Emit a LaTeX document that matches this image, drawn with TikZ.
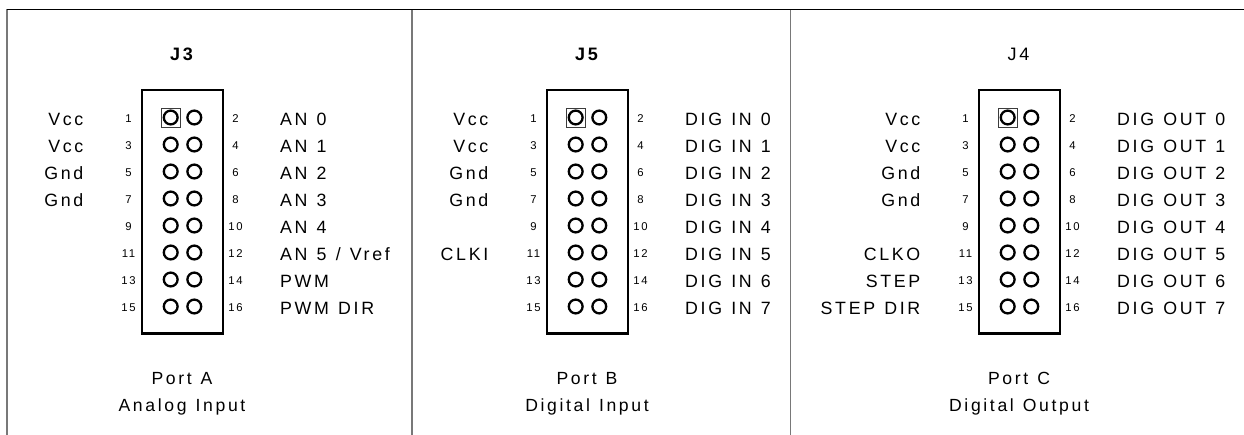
\documentclass[tikz,border=0pt]{standalone}
\usepackage{fontspec}
\setmainfont{Liberation Sans}[LetterSpace=15,WordSpace=1.2]
\definecolor{framegray}{RGB}{120,120,120}
\definecolor{sqgray}{RGB}{60,60,60}
\tikzset{
  lbl/.style={font=\fontsize{17.8}{20}\selectfont, inner sep=0pt},
  pinnum/.style={font=\fontsize{11.3}{12}\selectfont, inner sep=0pt, anchor=base},
  hdrtitle/.style={font=\fontsize{18}{20}\selectfont, inner sep=0pt, anchor=base},
  porttxt/.style={font=\fontsize{17.6}{20}\selectfont, inner sep=0pt, anchor=base},
  hdrbox/.style={draw, line width=2.2pt, minimum width=81pt, minimum height=243.5pt, inner sep=0pt},
  pinst/.style={circle, draw, line width=2.3pt, minimum size=13.8pt, inner sep=0pt},
  pinsq/.style={draw=sqgray, line width=0.9pt, minimum size=19pt, inner sep=0pt},
}
% #1 prefix, #2 centre x, #3 title, #4 left labels, #5 right labels, #6 port, #7 function
\newcommand\hdrpanel[7]{%
  \node[hdrtitle] (#1title) at (#2-1,61) {#3};
  \node[hdrbox] (#1box) at (#2,211.75) {};
  \node[pinsq] (#1sq) at (#2-11.5,117.5) {};
  \foreach \r in {1,...,8}{%
    \pgfmathsetmacro\ry{117.5+27*(\r-1)}%
    \pgfmathtruncatemacro\odd{2*\r-1}%
    \pgfmathtruncatemacro\even{2*\r}%
    \node[pinst] (#1pa\r) at (#2-11.8,\ry) {};
    \node[pinst] (#1pb\r) at (#2+11.8,\ry) {};
    \node[pinnum] (#1na\r) at (#2-54,\ry+5.2) {\odd};
    \node[pinnum] (#1nb\r) at (#2+53,\ry+5.2) {\even};
  }
  \foreach \t [count=\i] in {#4}{%
    \node[lbl, anchor=base east] (#1L\i) at (#2-99,117.5+27*\i-27+8.5) {\t};
  }
  \foreach \t [count=\i] in {#5}{%
    \node[lbl, anchor=base west] (#1R\i) at (#2+97.5,117.5+27*\i-27+8.5) {\t};
  }
  \node[porttxt] (#1port) at (#2-0.5,384.5) {#6};
  \node[porttxt] (#1func) at (#2-0.5,411) {#7};
}
\begin{document}
\begin{tikzpicture}[x=1pt,y=-1pt]
  \fill[white] (0,0) rectangle (1244,435);
  \useasboundingbox (0,0) rectangle (1244,435);
  \coordinate (tl) at (7,9.5);
  \coordinate (tr) at (1244,9.5);
  \coordinate (bl) at (7,435);
  \coordinate (d1t) at (412,9.5);
  \coordinate (d1b) at (412,435);
  \coordinate (d2t) at (790.5,9.5);
  \coordinate (d2b) at (790.5,435);
  \draw[framegray, line width=2pt] (tl) -- (bl);
  \draw[framegray, line width=1.6pt] (d1t) -- (d1b);
  \draw[framegray, line width=1.6pt] (d2t) -- (d2b);
  \draw[black, line width=1.5pt] (tl) -- (tr);

  \hdrpanel{A}{182.5}{\bfseries J3}%
    {Vcc,Vcc,Gnd,Gnd}%
    {AN 0,AN 1,AN 2,AN 3,AN 4,AN 5 / Vref,PWM,PWM DIR}%
    {Port A}{Analog Input}
  \hdrpanel{B}{587.5}{\bfseries J5}%
    {Vcc,Vcc,Gnd,Gnd,,CLKI}%
    {DIG IN 0,DIG IN 1,DIG IN 2,DIG IN 3,DIG IN 4,DIG IN 5,DIG IN 6,DIG IN 7}%
    {Port B}{Digital Input}
  \hdrpanel{C}{1019.5}{J4}%
    {Vcc,Vcc,Gnd,Gnd,,CLKO,STEP,STEP DIR}%
    {DIG OUT 0,DIG OUT 1,DIG OUT 2,DIG OUT 3,DIG OUT 4,DIG OUT 5,DIG OUT 6,DIG OUT 7}%
    {Port C}{Digital Output}
\end{tikzpicture}
\end{document}
